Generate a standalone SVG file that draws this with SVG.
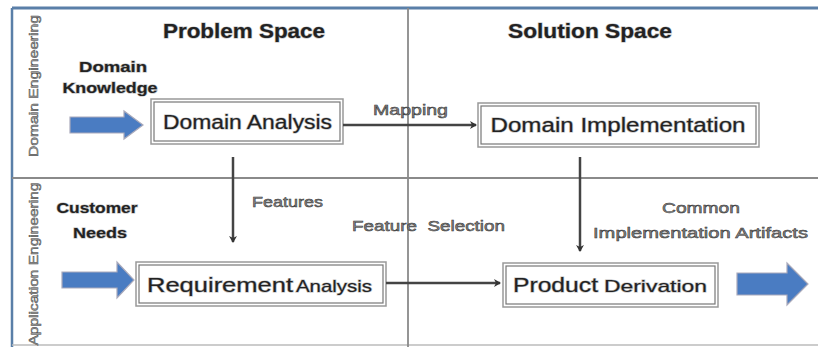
<svg xmlns="http://www.w3.org/2000/svg" width="818" height="347" viewBox="0 0 818 347">
<defs>
<style>
.t{font-family:"Liberation Sans",Arial,sans-serif;fill:#222;stroke:#bbb;stroke-width:1.2;paint-order:stroke}
.b{font-weight:bold}
.lbl{font-family:"Liberation Sans",Arial,sans-serif;fill:#8a8a8a;stroke:#333;stroke-width:0.5}
.vert{font-family:"Liberation Sans",Arial,sans-serif;fill:#999;stroke:#444;stroke-width:0.4}
.bo{fill:#fff;stroke:#999;stroke-width:1.5}
.bi{fill:none;stroke:#777;stroke-width:1.2}
.grid{stroke:#8a8a8a;stroke-width:1.8;fill:none}
.con{stroke:#444;stroke-width:2.5;fill:none}
.blue{fill:#4a7cc2;stroke:#aab;stroke-width:1.2}
</style>
<marker id="ah" markerWidth="8" markerHeight="8" refX="6" refY="4" orient="auto" markerUnits="userSpaceOnUse">
<path d="M0,0 L7,4 L0,8 L2,4 Z" fill="#333"/>
</marker>
</defs>
<rect width="818" height="347" fill="#fff"/>
<g id="frame">
<line x1="12" y1="8" x2="818" y2="8" stroke="#5a7fa8" stroke-width="3"/>
<line x1="12" y1="8" x2="12" y2="347" stroke="#5a7fa8" stroke-width="2.5"/>
<line x1="12" y1="345" x2="818" y2="345" stroke="#bbb" stroke-width="1.5"/>
<line class="grid" x1="12" y1="178" x2="818" y2="178"/>
<line class="grid" x1="408" y1="8" x2="408" y2="347"/>
</g>
<g id="titles">
<text class="t b" x="244" y="38" font-size="20" text-anchor="middle" textLength="162" lengthAdjust="spacingAndGlyphs">Problem Space</text>
<text class="t b" x="590" y="38" font-size="20" text-anchor="middle" textLength="164" lengthAdjust="spacingAndGlyphs">Solution Space</text>
<text class="vert" transform="translate(38,86) rotate(-90)" font-size="13" text-anchor="middle" textLength="142" lengthAdjust="spacingAndGlyphs">Domain Engineering</text>
<text class="vert" transform="translate(38,264) rotate(-90)" font-size="13" text-anchor="middle" textLength="163" lengthAdjust="spacingAndGlyphs">Application Engineering</text>
</g>
<g id="domain-knowledge">
<text class="t b" x="113" y="72" font-size="14" text-anchor="middle" textLength="68" lengthAdjust="spacingAndGlyphs">Domain</text>
<text class="t b" x="110" y="93" font-size="14" text-anchor="middle" textLength="95" lengthAdjust="spacingAndGlyphs">Knowledge</text>
<path class="blue" d="M70,117 L124,117 L124,111 L143,125 L124,139 L124,133 L70,133 Z"/>
</g>
<g id="customer-needs">
<text class="t b" x="97" y="213" font-size="15" text-anchor="middle" textLength="81" lengthAdjust="spacingAndGlyphs">Customer</text>
<text class="t b" x="100" y="238" font-size="15" text-anchor="middle" textLength="54" lengthAdjust="spacingAndGlyphs">Needs</text>
<path class="blue" d="M62,272 L117,272 L117,262 L134,280 L117,298 L117,288 L62,288 Z"/>
</g>
<g id="domain-analysis">
<rect class="bo" x="151" y="99" width="192" height="45"/>
<rect class="bi" x="154" y="102" width="186" height="39"/>
<text class="t" x="247.5" y="129" font-size="20" text-anchor="middle" textLength="169" lengthAdjust="spacingAndGlyphs">Domain Analysis</text>
</g>
<g id="domain-implementation">
<rect class="bo" x="478" y="103" width="281" height="44"/>
<rect class="bi" x="481" y="106" width="275" height="38"/>
<text class="t" x="618" y="132" font-size="20" text-anchor="middle" textLength="255" lengthAdjust="spacingAndGlyphs">Domain Implementation</text>
</g>
<g id="requirement-analysis">
<rect class="bo" x="136" y="262" width="250" height="44"/>
<rect class="bi" x="139" y="265" width="244" height="38"/>
<text class="t" x="147" y="292" font-size="21" textLength="146" lengthAdjust="spacingAndGlyphs">Requirement</text>
<text class="t" x="296" y="292" font-size="17" textLength="76" lengthAdjust="spacingAndGlyphs">Analysis</text>
</g>
<g id="product-derivation">
<rect class="bo" x="503" y="263" width="215" height="44"/>
<rect class="bi" x="506" y="266" width="209" height="38"/>
<text class="t" x="513" y="292" font-size="20" textLength="85" lengthAdjust="spacingAndGlyphs">Product</text>
<text class="t" x="604" y="292" font-size="17" textLength="103" lengthAdjust="spacingAndGlyphs">Derivation</text>
</g>
<g id="output-arrow">
<path class="blue" d="M737,273 L787,273 L787,263 L808,284 L787,305 L787,295 L737,295 Z"/>
<text class="lbl" x="701" y="213" font-size="15" text-anchor="middle" textLength="78" lengthAdjust="spacingAndGlyphs">Common</text>
<text class="lbl" x="700.5" y="238" font-size="15" text-anchor="middle" textLength="215" lengthAdjust="spacingAndGlyphs">Implementation Artifacts</text>
</g>
<g id="connectors">
<line class="con" x1="343" y1="125" x2="476" y2="125" marker-end="url(#ah)"/>
<line class="con" x1="233" y1="157" x2="233" y2="242" marker-end="url(#ah)"/>
<line class="con" x1="580" y1="157" x2="580" y2="251" marker-end="url(#ah)"/>
<line class="con" x1="386" y1="283" x2="500" y2="283" marker-end="url(#ah)"/>
<text class="lbl" x="373" y="115" font-size="15" textLength="75" lengthAdjust="spacingAndGlyphs">Mapping</text>
<text class="lbl" x="252" y="207" font-size="15" textLength="71" lengthAdjust="spacingAndGlyphs">Features</text>
<text class="lbl" x="352" y="231" font-size="15" textLength="153" lengthAdjust="spacingAndGlyphs" xml:space="preserve">Feature  Selection</text>
</g>
</svg>
